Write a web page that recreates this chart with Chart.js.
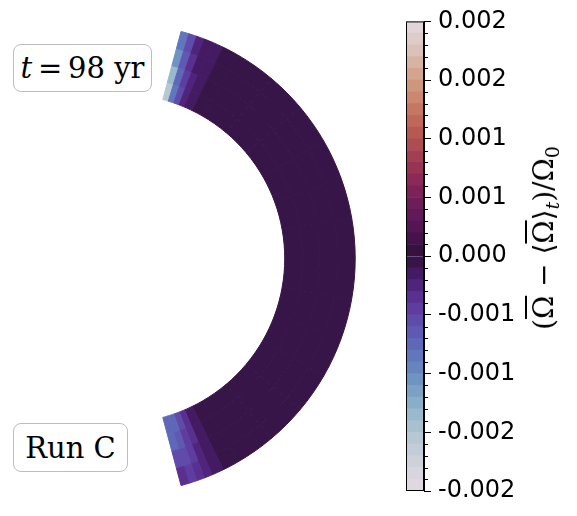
<!DOCTYPE html>
<html>
<head>
<meta charset="utf-8">
<script src="https://cdn.jsdelivr.net/npm/chart.js@4.4.1/dist/chart.umd.min.js"></script>
<style>
    html, body { margin: 0; padding: 0; background: #fff; }
    body { width: 577px; height: 516px; position: relative; overflow: hidden; }
    .box {
        position: absolute;
        box-sizing: border-box;
        border: 1.5px solid #bdbdbd;
        border-radius: 8px;
        background: #fff;
        font-family: "DejaVu Serif", serif;
        font-size: 29px;
        color: #000;
        display: flex;
        align-items: center;
        justify-content: center;
        white-space: nowrap;
    }
    #time-box { left: 13px; top: 44px; width: 139px; height: 48px; }
    #run-box { left: 13px; top: 423px; width: 115px; height: 49px; }
    #slice-wrap { position: absolute; left: 149px; top: 31px; width: 220px; height: 455px; }
    #cbar-wrap { position: absolute; left: 386px; top: 0; width: 191px; height: 516px; }
    #cbar-title {
        position: absolute;
        left: 545px;
        top: 238px;
        transform: translate(-50%, -50%) rotate(-90deg);
        font-family: "DejaVu Serif", serif;
        font-size: 28px;
        white-space: nowrap;
        color: #000;
    }
    .ov { text-decoration: overline; }
    .sub { font-size: 19px; vertical-align: -6px; }
</style>
</head>
<body>

<div id="slice-wrap"><canvas id="sliceChart"></canvas></div>
<div id="cbar-wrap"><canvas id="cbarChart"></canvas></div>

<div class="box" id="time-box"><i>t</i>&thinsp;=&thinsp;98 yr</div>
<div class="box" id="run-box">Run C</div>
<div id="cbar-title">(<span class="ov">Ω</span> − ⟨<span class="ov">Ω</span>⟩<span class="sub"><i>t</i></span>)/Ω<span class="sub">0</span></div>

<script>
// colatitude bins of the meridional slice (degrees, from north pole 15 to 165)
const binWidths = [2, 2, 2, 2, 3, 4, 10, 10, 10, 10, 10, 10, 10, 10, 10, 10, 10, 10, 4, 3, 2, 2, 2, 2];

// (Omega - <Omega>_t)/Omega_0, outer shell to inner shell
const ringOuter = [-0.0010, -0.0006, -0.0003, -0.0002, -0.00015, -0.0001, -0.00005,
    -0.00005, -0.00005, -0.00005, -0.00005, -0.00005, -0.00005, -0.00005, -0.00005, -0.00005, -0.00005,
    -0.00005, -0.0001, -0.0002, -0.0003, -0.0004, -0.0005, -0.0004];
const ringUpper = [-0.0012, -0.0007, -0.0004, -0.0002, -0.00015, -0.0001, -0.00005,
    -0.00005, -0.00005, -0.00005, -0.00005, -0.00005, -0.00005, -0.00005, -0.00005, -0.00005, -0.00005,
    -0.00005, -0.0001, -0.0002, -0.0003, -0.0005, -0.0006, -0.0006];
const ringLower = [-0.0015, -0.0009, -0.0005, -0.0003, -0.0002, -0.0001, -0.00005,
    -0.00005, -0.00005, -0.00005, -0.00005, -0.00005, -0.00005, -0.00005, -0.00005, -0.00005, -0.00005,
    -0.00005, -0.0001, -0.0002, -0.0004, -0.0005, -0.0007, -0.0008];
const ringInner = [-0.0017, -0.0010, -0.0006, -0.0003, -0.0002, -0.0001, -0.00005,
    -0.00005, -0.00005, -0.00005, -0.00005, -0.00005, -0.00005, -0.00005, -0.00005, -0.00005, -0.00005,
    -0.00005, -0.0001, -0.0002, -0.0004, -0.0006, -0.0008, -0.0009];

// colorbar
const vmin = -0.00225;
const vmax = 0.00225;
const nLevels = 40;
const tickValues = [0.00225, 0.0016875, 0.001125, 0.0005625, 0, -0.0005625, -0.001125, -0.0016875, -0.00225];
const tickLabels = ['0.002', '0.002', '0.001', '0.001', '0.000', '-0.001', '-0.001', '-0.002', '-0.002'];

// twilight colormap anchors [t, r, g, b]
const twilight = [
    [0.00, 226, 217, 226], [0.05, 212, 211, 219], [0.10, 190, 203, 214], [0.15, 160, 190, 207],
    [0.20, 130, 168, 199], [0.25, 104, 140, 192], [0.30, 95, 111, 186], [0.35, 96, 82, 176],
    [0.40, 94, 54, 154], [0.45, 75, 30, 112], [0.50, 48, 18, 59], [0.55, 76, 20, 80],
    [0.60, 104, 26, 90], [0.65, 132, 36, 89], [0.70, 158, 56, 84], [0.75, 178, 82, 80],
    [0.80, 195, 112, 92], [0.85, 205, 142, 117], [0.90, 213, 172, 152], [0.95, 220, 200, 196],
    [1.00, 226, 217, 226]
];

function twilightAt(t) {
    for (let i = 1; i < twilight.length; i++) {
        if (t <= twilight[i][0]) {
            const a = twilight[i - 1], b = twilight[i];
            const f = (t - a[0]) / (b[0] - a[0]);
            const c = [1, 2, 3].map(k => Math.round(a[k] + f * (b[k] - a[k])));
            return `rgb(${c[0]}, ${c[1]}, ${c[2]})`;
        }
    }
    return 'rgb(226, 217, 226)';
}

// contourf-style: snap value to its level band
function colorFor(v) {
    let idx = Math.floor((v - vmin) / (vmax - vmin) * nLevels);
    idx = Math.max(0, Math.min(nLevels - 1, idx));
    return twilightAt((idx + 0.5) / nLevels);
}

/*=========================== meridional slice ===========================*/
const rings = [ringOuter, ringUpper, ringLower, ringInner];
new Chart(document.getElementById('sliceChart'), {
    type: 'doughnut',
    data: {
        labels: binWidths.map((w, i) => 'bin ' + i),
        datasets: rings.map(vals => {
            const colors = vals.map(colorFor);
            return {
                data: binWidths,
                backgroundColor: colors,
                borderColor: colors,
                borderWidth: 1,
                hoverOffset: 0
            };
        })
    },
    options: {
        responsive: true,
        maintainAspectRatio: false,
        animation: false,
        rotation: 15,
        circumference: 150,
        cutout: '70%',
        layout: { padding: 0 },
        plugins: {
            legend: { display: false },
            tooltip: { enabled: false }
        }
    }
});

/*=========================== colorbar ===========================*/
const levels = [];
for (let i = 0; i <= nLevels; i++) levels.push(vmin + (vmax - vmin) * i / nLevels);

const cbarFrame = {
    id: 'cbarFrame',
    afterDraw(chart) {
        const { ctx, chartArea } = chart;
        const y = chart.scales.y;
        ctx.save();
        ctx.strokeStyle = '#000';
        ctx.lineWidth = 1;
        // minor ticks
        ctx.beginPath();
        for (const lv of levels) {
            if (tickValues.some(t => Math.abs(t - lv) < 1e-9)) continue;
            const py = Math.round(y.getPixelForValue(lv)) + 0.5;
            ctx.moveTo(chartArea.right, py);
            ctx.lineTo(chartArea.right + 4, py);
        }
        ctx.stroke();
        ctx.strokeRect(chartArea.left + 0.5, chartArea.top + 0.5, chartArea.width - 1, chartArea.height - 1);
        ctx.restore();
    }
};

new Chart(document.getElementById('cbarChart'), {
    type: 'bar',
    data: {
        labels: [''],
        datasets: levels.slice(0, -1).map((lo, i) => ({
            data: [[lo, levels[i + 1]]],
            backgroundColor: twilightAt((i + 0.5) / nLevels),
            borderWidth: 0,
            grouped: false,
            barPercentage: 1,
            categoryPercentage: 1
        }))
    },
    options: {
        responsive: true,
        maintainAspectRatio: false,
        animation: false,
        layout: { padding: { left: 20, top: 19, bottom: 25, right: 0 } },
        plugins: {
            legend: { display: false },
            tooltip: { enabled: false }
        },
        scales: {
            x: { display: false },
            y: {
                position: 'right',
                min: vmin,
                max: vmax,
                afterBuildTicks: scale => {
                    scale.ticks = tickValues.map(v => ({ value: v }));
                },
                afterFit: scale => { scale.width = 153; },
                border: { display: true, color: '#000', width: 1 },
                grid: {
                    drawOnChartArea: false,
                    tickLength: 7,
                    tickColor: '#000',
                    tickWidth: 1
                },
                ticks: {
                    autoSkip: false,
                    padding: 7,
                    color: '#000',
                    font: { family: 'DejaVu Sans', size: 24 },
                    callback: (val, index) => tickLabels[index]
                }
            }
        }
    },
    plugins: [cbarFrame]
});
</script>
</body>
</html>
